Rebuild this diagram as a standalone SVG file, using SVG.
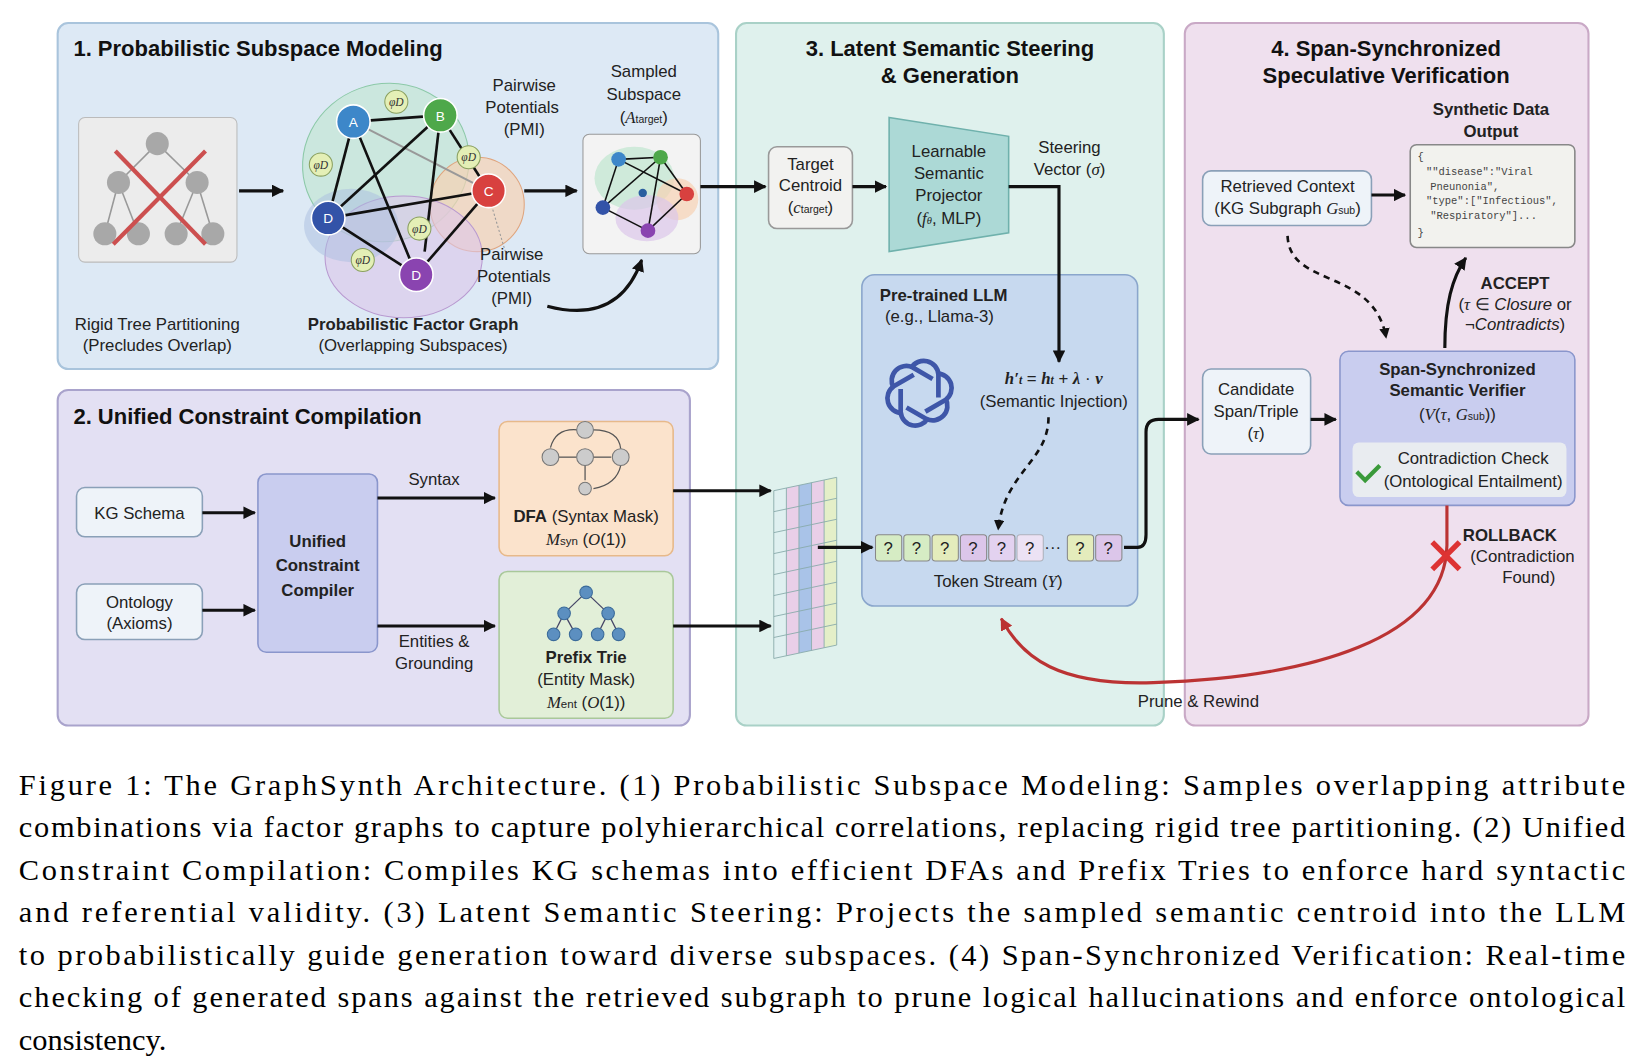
<svg xmlns="http://www.w3.org/2000/svg" width="1644" height="1064" viewBox="0 0 1644 1064">
<style>
.t{font-family:"Liberation Sans",Arial,sans-serif;font-size:16px;fill:#222;text-anchor:middle}
.b{font-weight:bold}
.h{font-family:"Liberation Sans",Arial,sans-serif;font-size:21px;font-weight:bold;fill:#111}
.m{font-family:"Liberation Serif","Times New Roman",serif;font-style:italic}
.cap{font-family:"Liberation Serif","Times New Roman",serif;font-size:29px;fill:#000}
.ln{stroke:#111;stroke-width:3;fill:none}
.nd{stroke:#fff;stroke-width:1.5}
.nl{font-family:"Liberation Sans",Arial,sans-serif;font-size:13px;fill:#fff;text-anchor:middle}
.phi{fill:#e4efb6;stroke:#8aa060;stroke-width:1}
.pt{font-family:"Liberation Serif",serif;font-style:italic;font-size:11px;fill:#333;text-anchor:middle}
.tok{stroke:#888;stroke-width:1}
.js{font-family:"Liberation Mono",monospace;font-size:10px;fill:#444}
</style>
<defs>
<marker id="ah" viewBox="0 0 10 10" refX="9" refY="5" markerWidth="4" markerHeight="4" orient="auto"><path d="M0,0L10,5L0,10z" fill="#111"/></marker>
<marker id="ahr" viewBox="0 0 10 10" refX="9" refY="5" markerWidth="4" markerHeight="4" orient="auto"><path d="M0,0L10,5L0,10z" fill="#b33"/></marker>
</defs>
<rect width="1644" height="1064" fill="#fff"/>
<g transform="scale(1.0485)">
<g id="panel1">
<rect x="55" y="22" width="630" height="330" rx="10" fill="#dde9f5" stroke="#a9c4dc" stroke-width="2"/>
<text class="h" x="70" y="53">1. Probabilistic Subspace Modeling</text>
</g>
<g id="panel2">
<rect x="55" y="372" width="603" height="320" rx="10" fill="#e3e0f3" stroke="#a9a3cc" stroke-width="2"/>
<text class="h" x="70" y="404">2. Unified Constraint Compilation</text>
</g>
<g id="panel3">
<rect x="702" y="22" width="408" height="670" rx="10" fill="#dff1ed" stroke="#a9d1c7" stroke-width="2"/>
<text class="h" x="906" y="53" text-anchor="middle">3. Latent Semantic Steering</text>
<text class="h" x="906" y="79" text-anchor="middle">&amp; Generation</text>
</g>
<g id="panel4">
<rect x="1130" y="22" width="385" height="670" rx="10" fill="#efe0ee" stroke="#c9a9c6" stroke-width="2"/>
<text class="h" x="1322" y="53" text-anchor="middle">4. Span-Synchronized</text>
<text class="h" x="1322" y="79" text-anchor="middle">Speculative Verification</text>
</g>

<g id="rigidTree">
<rect x="75" y="112" width="151" height="138" rx="6" fill="#ececec" stroke="#bbb"/>
<g stroke="#999" stroke-width="1.5">
<line x1="150" y1="137" x2="113" y2="174"/><line x1="150" y1="137" x2="188" y2="174"/>
<line x1="113" y1="174" x2="100" y2="223"/><line x1="113" y1="174" x2="132" y2="223"/>
<line x1="188" y1="174" x2="168" y2="223"/><line x1="188" y1="174" x2="203" y2="223"/>
</g>
<g fill="#a8a8a8"><circle cx="150" cy="137" r="11"/><circle cx="113" cy="174" r="11"/><circle cx="188" cy="174" r="11"/>
<circle cx="100" cy="223" r="11"/><circle cx="132" cy="223" r="11"/><circle cx="168" cy="223" r="11"/><circle cx="203" cy="223" r="11"/></g>
<g stroke="#cc4f4f" stroke-width="4"><line x1="110" y1="144" x2="196" y2="233"/><line x1="196" y1="144" x2="108" y2="233"/></g>
<text class="t" x="150" y="315">Rigid Tree Partitioning</text>
<text class="t" x="150" y="335">(Precludes Overlap)</text>
</g>
<g id="factorGraph">
<ellipse cx="368" cy="155" rx="80" ry="75" transform="rotate(-20 368 155)" fill="#bfe6cf" fill-opacity="0.6" stroke="#8cc9a8"/>
<circle cx="455" cy="195" r="45" fill="#f6d2b4" fill-opacity="0.7" stroke="#e0a57e"/>
<ellipse cx="385" cy="245" rx="75" ry="58" fill="#dcc6ea" fill-opacity="0.6" stroke="#b899d0"/>
<ellipse cx="335" cy="215" rx="45" ry="35" fill="#a9bde0" fill-opacity="0.5"/>
<g stroke="#999" stroke-width="2"><line x1="337" y1="116" x2="466" y2="182"/></g>
<g stroke="#111" stroke-width="2.5">
<line x1="337" y1="116" x2="420" y2="110"/><line x1="337" y1="116" x2="313" y2="208"/><line x1="337" y1="116" x2="397" y2="262"/>
<line x1="420" y1="110" x2="313" y2="208"/><line x1="420" y1="110" x2="466" y2="182"/><line x1="420" y1="110" x2="405" y2="240"/>
<line x1="313" y1="208" x2="466" y2="182"/><line x1="313" y1="208" x2="397" y2="262"/><line x1="466" y1="182" x2="397" y2="262"/>
</g>
<line x1="470" y1="200" x2="482" y2="240" stroke="#999" stroke-dasharray="2 2"/>
<circle class="nd" cx="337" cy="116" r="16" fill="#3d87c9"/><text class="nl" x="337" y="121">A</text>
<circle class="nd" cx="420" cy="110" r="16" fill="#4ea84a"/><text class="nl" x="420" y="115">B</text>
<circle class="nd" cx="466" cy="182" r="16" fill="#d8413f"/><text class="nl" x="466" y="187">C</text>
<circle class="nd" cx="313" cy="208" r="16" fill="#3353a8"/><text class="nl" x="313" y="213">D</text>
<circle class="nd" cx="397" cy="262" r="16" fill="#8a44b0"/><text class="nl" x="397" y="267">D</text>
<circle class="phi" cx="378" cy="97" r="11"/><text class="pt" x="378" y="101">φD</text>
<circle class="phi" cx="306" cy="157" r="11"/><text class="pt" x="306" y="161">φD</text>
<circle class="phi" cx="447" cy="150" r="11"/><text class="pt" x="447" y="154">φD</text>
<circle class="phi" cx="400" cy="218" r="11"/><text class="pt" x="400" y="222">φD</text>
<circle class="phi" cx="346" cy="248" r="11"/><text class="pt" x="346" y="252">φD</text>
<text class="t" x="500" y="87">Pairwise</text><text class="t" x="498" y="108">Potentials</text><text class="t" x="500" y="129">(PMI)</text>
<text class="t" x="488" y="248">Pairwise</text><text class="t" x="490" y="269">Potentials</text><text class="t" x="488" y="290">(PMI)</text>
<text class="t b" x="394" y="315">Probabilistic Factor Graph</text>
<text class="t" x="394" y="335">(Overlapping Subspaces)</text>
</g>
<g id="sampled">
<text class="t" x="614" y="73">Sampled</text><text class="t" x="614" y="95">Subspace</text>
<text class="t" x="614" y="117">(<tspan class="m">A</tspan><tspan font-size="10">target</tspan>)</text>
<rect x="556" y="128" width="112" height="114" rx="6" fill="#f3f3f3" stroke="#999"/>
<ellipse cx="605" cy="170" rx="38" ry="30" fill="#bfe6cf" fill-opacity="0.7"/>
<circle cx="646" cy="190" r="20" fill="#f6d2b4" fill-opacity="0.7"/>
<ellipse cx="617" cy="208" rx="30" ry="22" fill="#dcc6ea" fill-opacity="0.7"/>
<g stroke="#111" stroke-width="1.5"><line x1="590" y1="152" x2="630" y2="150"/><line x1="590" y1="152" x2="575" y2="198"/><line x1="630" y1="150" x2="575" y2="198"/><line x1="630" y1="150" x2="655" y2="185"/><line x1="630" y1="150" x2="618" y2="220"/><line x1="575" y1="198" x2="618" y2="220"/><line x1="655" y1="185" x2="618" y2="220"/><line x1="590" y1="152" x2="655" y2="185"/></g>
<circle cx="590" cy="152" r="7" fill="#3d87c9"/><circle cx="630" cy="150" r="7" fill="#4ea84a"/><circle cx="655" cy="185" r="7" fill="#d8413f"/><circle cx="575" cy="198" r="7" fill="#3353a8"/><circle cx="618" cy="220" r="7" fill="#8a44b0"/><circle cx="613" cy="184" r="4" fill="#2a5fa0"/>
</g>

<g id="kgSchema"><rect x="73" y="465" width="120" height="47" rx="8" fill="#eef3f9" stroke="#8aa0b8" stroke-width="1.5"/><text class="t" x="133" y="495">KG Schema</text></g>
<g id="ontology"><rect x="73" y="557" width="120" height="53" rx="8" fill="#eef3f9" stroke="#8aa0b8" stroke-width="1.5"/><text class="t" x="133" y="580">Ontology</text><text class="t" x="133" y="600">(Axioms)</text></g>
<g id="compiler"><rect x="246" y="452" width="114" height="170" rx="8" fill="#c9cdef" stroke="#8a96cc" stroke-width="1.5"/>
<text class="t b" x="303" y="522" font-size="18">Unified</text><text class="t b" x="303" y="545" font-size="18">Constraint</text><text class="t b" x="303" y="568" font-size="18">Compiler</text></g>
<g id="dfa"><rect x="476" y="402" width="166" height="128" rx="8" fill="#fbe3cc" stroke="#e7b98a" stroke-width="1.5"/>
<g stroke="#555" stroke-width="1.2" fill="none"><line x1="533" y1="436" x2="550" y2="436"/><line x1="566" y1="436" x2="583" y2="436"/><path d="M525,427 Q530,408 551,410"/><path d="M566,410 Q590,410 592,428"/><path d="M592,444 Q588,462 566,466"/><line x1="558" y1="444" x2="558" y2="458"/></g>
<g fill="#ccc" stroke="#777"><circle cx="525" cy="436" r="8"/><circle cx="558" cy="410" r="8"/><circle cx="558" cy="436" r="8"/><circle cx="592" cy="436" r="8"/><circle cx="558" cy="466" r="6"/></g>
<text class="t" x="559" y="498"><tspan font-weight="bold">DFA</tspan> (Syntax Mask)</text>
<text class="t" x="559" y="520"><tspan class="m">M</tspan><tspan font-size="11">syn</tspan> (<tspan class="m">O</tspan>(1))</text></g>
<g id="trie"><rect x="476" y="545" width="166" height="140" rx="8" fill="#e2efd8" stroke="#a9c89a" stroke-width="1.5"/>
<g stroke="#446" stroke-width="1.2"><line x1="559" y1="565" x2="538" y2="585"/><line x1="559" y1="565" x2="580" y2="585"/><line x1="538" y1="585" x2="528" y2="605"/><line x1="538" y1="585" x2="549" y2="605"/><line x1="580" y1="585" x2="570" y2="605"/><line x1="580" y1="585" x2="590" y2="605"/></g>
<g fill="#5c8fc0" stroke="#3b6b9a"><circle cx="559" cy="565" r="6"/><circle cx="538" cy="585" r="6"/><circle cx="580" cy="585" r="6"/><circle cx="528" cy="605" r="6"/><circle cx="549" cy="605" r="6"/><circle cx="570" cy="605" r="6"/><circle cx="590" cy="605" r="6"/></g>
<text class="t b" x="559" y="632">Prefix Trie</text><text class="t" x="559" y="653">(Entity Mask)</text>
<text class="t" x="559" y="675"><tspan class="m">M</tspan><tspan font-size="11">ent</tspan> (<tspan class="m">O</tspan>(1))</text></g>

<g id="centroid"><rect x="733" y="140" width="80" height="78" rx="8" fill="#f2f2f0" stroke="#999" stroke-width="1.5"/>
<text class="t" x="773" y="162">Target</text><text class="t" x="773" y="182">Centroid</text><text class="t" x="773" y="203">(<tspan class="m">c</tspan><tspan font-size="10">target</tspan>)</text></g>
<g id="projector"><path d="M848,112 L962,130 L962,222 L848,240 Z" fill="#acd9d6" stroke="#6fb1ac" stroke-width="1.5"/>
<text class="t" x="905" y="150">Learnable</text><text class="t" x="905" y="171">Semantic</text><text class="t" x="905" y="192">Projector</text><text class="t" x="905" y="214">(<tspan class="m">f</tspan><tspan font-size="10" class="m">θ</tspan>, MLP)</text></g>
<text class="t" x="1020" y="146">Steering</text><text class="t" x="1020" y="167">Vector (<tspan class="m">σ</tspan>)</text>
<g id="llm"><rect x="822" y="262" width="263" height="316" rx="12" fill="#c7d9ef" stroke="#8aa6cc" stroke-width="1.5"/>
<text class="t b" x="900" y="287">Pre-trained LLM</text><text class="t" x="896" y="307">(e.g., Llama-3)</text>
<g fill="none" stroke="#3e56a8" stroke-width="4.5" transform="translate(877,375)">
<g id="pet"><path d="M-8,-24 a14,14 0 0 1 26,6 l0,22"/></g>
<use href="#pet" transform="rotate(60)"/><use href="#pet" transform="rotate(120)"/><use href="#pet" transform="rotate(180)"/><use href="#pet" transform="rotate(240)"/><use href="#pet" transform="rotate(300)"/>
</g>
<text class="t" x="1005" y="366" font-size="18"><tspan class="m" font-weight="bold">h′<tspan font-size="11">t</tspan></tspan> = <tspan class="m" font-weight="bold">h<tspan font-size="11">t</tspan></tspan> + <tspan class="m" font-weight="bold">λ</tspan> · <tspan class="m" font-weight="bold">v</tspan></text>
<text class="t" x="1005" y="388">(Semantic Injection)</text>
<rect class="tok" x="835" y="510" width="25" height="25" rx="3" fill="#d6ecc4"/><text class="t" x="847" y="528">?</text>
<rect class="tok" x="862" y="510" width="25" height="25" rx="3" fill="#d6ecc4"/><text class="t" x="874" y="528">?</text>
<rect class="tok" x="889" y="510" width="25" height="25" rx="3" fill="#e4ecbc"/><text class="t" x="901" y="528">?</text>
<rect class="tok" x="916" y="510" width="25" height="25" rx="3" fill="#dcc6ea"/><text class="t" x="928" y="528">?</text>
<rect class="tok" x="943" y="510" width="25" height="25" rx="3" fill="#e3d2f0"/><text class="t" x="955" y="528">?</text>
<rect class="tok" x="970" y="510" width="25" height="25" rx="3" fill="#ece2f4" stroke-opacity="0.5"/><text class="t" x="982" y="528" fill="#999">?</text>
<text class="t" x="1004" y="527">···</text>
<rect class="tok" x="1018" y="510" width="25" height="25" rx="3" fill="#e4ecbc"/><text class="t" x="1030" y="528">?</text>
<rect class="tok" x="1045" y="510" width="25" height="25" rx="3" fill="#dcc6ea"/><text class="t" x="1057" y="528">?</text>
<text class="t" x="952" y="560">Token Stream (<tspan class="m">Y</tspan>)</text></g>
<g id="maskGrid" transform="translate(738,455) skewY(-12)">
<rect x="0" y="13" width="12" height="160" fill="#dff0f0"/><rect x="12" y="13" width="12" height="160" fill="#e9cfe8"/><rect x="24" y="13" width="12" height="160" fill="#a9c3e8"/><rect x="36" y="13" width="12" height="160" fill="#e9cfe8"/><rect x="48" y="13" width="12" height="160" fill="#e4efc8"/>
<g stroke="#8aa" stroke-width="0.8" fill="none"><rect x="0" y="13" width="60" height="160"/>
<path d="M12,13v160M24,13v160M36,13v160M48,13v160M0,33h60M0,53h60M0,73h60M0,93h60M0,113h60M0,133h60M0,153h60"/></g></g>

<text class="t b" x="1422" y="110">Synthetic Data</text><text class="t b" x="1422" y="131">Output</text>
<g id="output"><rect x="1345" y="138" width="157" height="98" rx="6" fill="#f2f2ee" stroke="#888" stroke-width="1.5"/>
<text class="js" x="1352" y="153">{</text><text class="js" x="1360" y="167">""disease":"Viral</text><text class="js" x="1364" y="181">Pneunonia",</text><text class="js" x="1360" y="195">"type":["Infectious",</text><text class="js" x="1364" y="209">"Respiratory"]...</text><text class="js" x="1352" y="225">}</text></g>
<g id="retrieved"><rect x="1147" y="163" width="161" height="52" rx="8" fill="#eef3f9" stroke="#8aa0b8" stroke-width="1.5"/>
<text class="t" x="1228" y="183">Retrieved Context</text><text class="t" x="1228" y="204">(KG Subgraph <tspan class="m">G</tspan><tspan font-size="10">sub</tspan>)</text></g>
<g id="candidate"><rect x="1147" y="352" width="103" height="81" rx="8" fill="#eef3f9" stroke="#8aa0b8" stroke-width="1.5"/>
<text class="t" x="1198" y="377">Candidate</text><text class="t" x="1198" y="398">Span/Triple</text><text class="t" x="1198" y="419">(<tspan class="m">τ</tspan>)</text></g>
<g id="verifier"><rect x="1278" y="335" width="224" height="147" rx="8" fill="#c9cdef" stroke="#8a96cc" stroke-width="1.5"/>
<text class="t b" x="1390" y="358">Span-Synchronized</text><text class="t b" x="1390" y="378">Semantic Verifier</text>
<text class="t" x="1390" y="401">(<tspan class="m">V</tspan>(<tspan class="m">τ</tspan>, <tspan class="m">G</tspan><tspan font-size="10">sub</tspan>))</text>
<rect x="1290" y="422" width="204" height="52" rx="6" fill="#e9ecf0"/>
<path d="M1294,450 l8,8 l14,-14" fill="none" stroke="#3a9a3a" stroke-width="4"/>
<text class="t" x="1405" y="443">Contradiction Check</text><text class="t" x="1405" y="464">(Ontological Entailment)</text></g>
<text class="t b" x="1445" y="276">ACCEPT</text><text class="t" x="1445" y="296" font-size="15">(<tspan class="m">τ</tspan> ∈ <tspan font-style="italic">Closure</tspan> or</text><text class="t" x="1445" y="315" font-size="15">¬<tspan font-style="italic">Contradicts</tspan>)</text>
<text class="t b" x="1440" y="516">ROLLBACK</text><text class="t" x="1452" y="536">(Contradiction</text><text class="t" x="1458" y="556">Found)</text>
<text class="t" x="1143" y="674" text-anchor="start">Prune &amp; Rewind</text>

<g id="connectors">
<line class="ln" x1="228" y1="182" x2="270" y2="182" marker-end="url(#ah)"/>
<line class="ln" x1="500" y1="182" x2="550" y2="182" marker-end="url(#ah)"/>
<path class="ln" d="M522,292 Q590,310 612,248" marker-end="url(#ah)"/>
<line class="ln" x1="668" y1="178" x2="730" y2="178" marker-end="url(#ah)"/>
<line class="ln" x1="813" y1="178" x2="845" y2="178" marker-end="url(#ah)"/>
<path class="ln" d="M962,178 H1010 V345" marker-end="url(#ah)"/>
<path d="M1000,398 C1000,440 958,450 952,505" fill="none" stroke="#111" stroke-width="2.5" stroke-dasharray="6 5" marker-end="url(#ah)"/>
<line class="ln" x1="780" y1="522" x2="832" y2="522" marker-end="url(#ah)"/>
<line class="ln" x1="193" y1="489" x2="243" y2="489" marker-end="url(#ah)"/>
<line class="ln" x1="193" y1="582" x2="243" y2="582" marker-end="url(#ah)"/>
<line class="ln" x1="360" y1="475" x2="472" y2="475" marker-end="url(#ah)"/>
<text class="t" x="414" y="463">Syntax</text>
<line class="ln" x1="360" y1="597" x2="472" y2="597" marker-end="url(#ah)"/>
<text class="t" x="414" y="617">Entities &amp;</text><text class="t" x="414" y="638">Grounding</text>
<line class="ln" x1="642" y1="468" x2="735" y2="468" marker-end="url(#ah)"/>
<line class="ln" x1="642" y1="597" x2="735" y2="597" marker-end="url(#ah)"/>
<path class="ln" d="M1072,522 H1085 Q1093,522 1093,510 V412 Q1093,400 1105,400 H1143" marker-end="url(#ah)"/>
<line class="ln" x1="1308" y1="186" x2="1340" y2="186" marker-end="url(#ah)"/>
<path d="M1228,225 C1230,275 1310,255 1322,322" fill="none" stroke="#111" stroke-width="2.5" stroke-dasharray="6 5" marker-end="url(#ah)"/>
<line class="ln" x1="1250" y1="400" x2="1274" y2="400" marker-end="url(#ah)"/>
<path class="ln" d="M1378,332 C1378,290 1385,265 1398,246" marker-end="url(#ah)"/>
<path d="M1380,482 V520 C1378,610 1250,646 1100,651 C1010,654 975,628 955,590" fill="none" stroke="#b33" stroke-width="3" marker-end="url(#ahr)"/>
<g stroke="#d33" stroke-width="5"><line x1="1366" y1="517" x2="1392" y2="543"/><line x1="1392" y1="517" x2="1366" y2="543"/></g>
</g>

<g id="caption" class="cap">
<text x="18" y="758" textLength="1532" lengthAdjust="spacing">Figure 1: The GraphSynth Architecture. (1) Probabilistic Subspace Modeling: Samples overlapping attribute</text>
<text x="18" y="798" textLength="1532" lengthAdjust="spacing">combinations via factor graphs to capture polyhierarchical correlations, replacing rigid tree partitioning. (2) Unified</text>
<text x="18" y="839" textLength="1532" lengthAdjust="spacing">Constraint Compilation: Compiles KG schemas into efficient DFAs and Prefix Tries to enforce hard syntactic</text>
<text x="18" y="879" textLength="1532" lengthAdjust="spacing">and referential validity.  (3) Latent Semantic Steering: Projects the sampled semantic centroid into the LLM</text>
<text x="18" y="920" textLength="1532" lengthAdjust="spacing">to probabilistically guide generation toward diverse subspaces. (4) Span-Synchronized Verification: Real-time</text>
<text x="18" y="960" textLength="1532" lengthAdjust="spacing">checking of generated spans against the retrieved subgraph to prune logical hallucinations and enforce ontological</text>
<text x="18" y="1001">consistency.</text>
</g>
</g>
</svg>
